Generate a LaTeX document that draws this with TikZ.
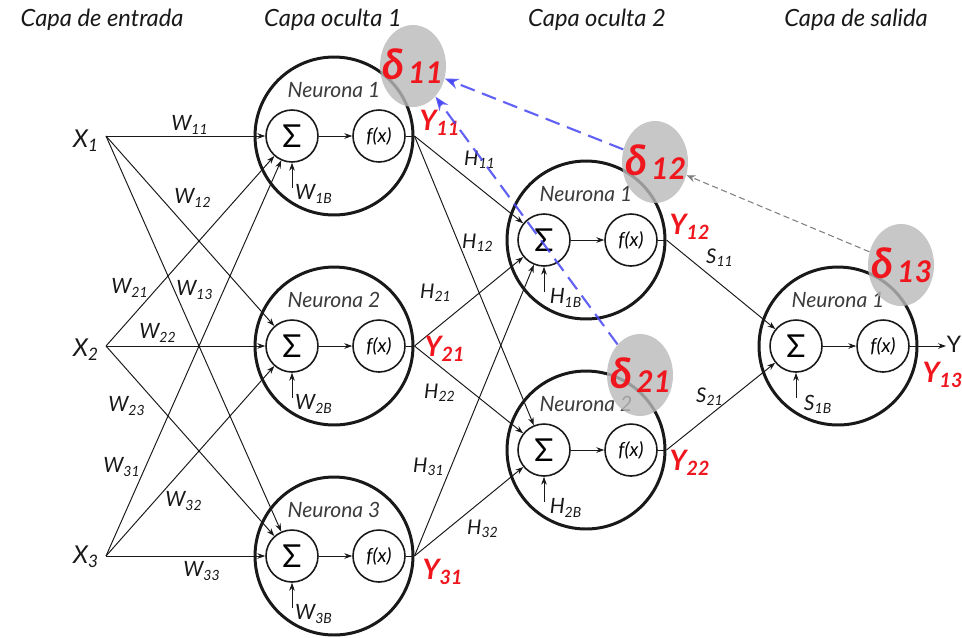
\documentclass[tikz,border=0pt]{standalone}
\usepackage{fontspec}
\setmainfont{Lato}
\usetikzlibrary{arrows.meta,calc,shapes.geometric}

\definecolor{ink}{RGB}{25,25,25}
\definecolor{softink}{RGB}{60,60,60}
\definecolor{errred}{RGB}{240,22,30}
\definecolor{blobgray}{RGB}{185,185,185}
\definecolor{backblue}{RGB}{70,70,245}

% label helpers
\newcommand{\wsub}[2]{#1\textsubscript{#2}}
\newcommand{\ylab}[1]{\textcolor{errred}{\bfseries\itshape Y\textsubscript{#1}}}
\newcommand{\dlab}[1]{\textcolor{errred}{\bfseries\itshape{\fontsize{24}{24}\selectfont δ}\kern2pt\raisebox{-0.22em}{\fontsize{17}{17}\selectfont #1}}}

% one neuron: outer circle, summation unit, activation unit, bias input
% #1 name, #2 x, #3 y, #4 title, #5 bias label
\newcommand{\drawneuron}[5]{%
  \node[neuron] (#1) at (#2,#3) {};
  \node[sumunit] (#1s) at (#2-42,#3) {Σ};
  \node[actunit] (#1f) at (#2+45,#3) {f(x)};
  \node[neutitle] (#1t) at (#2,#3-46) {#4};
  \draw[link] (#1s) -- (#1f);
  \draw[wire] (#1f) -- (#1.east);
  \coordinate (#1b) at (#2-42,#3+52);
  \draw[link] (#1b) -- (#1s);
  \node[biaslab] (#1bl) at (#2-20,#3+58) {#5};
}

\tikzset{
  neuron/.style={circle, draw=ink, line width=1.7pt, fill=white,
    minimum size=3.16cm, inner sep=0pt},
  sumunit/.style={circle, draw=ink, line width=0.9pt, minimum size=1.04cm,
    inner sep=0pt, font=\upshape\fontsize{18}{18}\selectfont},
  actunit/.style={circle, draw=ink, line width=0.9pt, minimum size=1.04cm,
    inner sep=0pt, font=\itshape\fontsize{11}{11}\selectfont},
  neutitle/.style={font=\itshape\fontsize{12}{12}\selectfont, text=softink},
  biaslab/.style={font=\itshape\fontsize{12}{12}\selectfont, text=ink},
  wlab/.style={font=\itshape\fontsize{12}{12}\selectfont, text=ink},
  hlab/.style={font=\itshape\fontsize{11.5}{12}\selectfont, text=ink},
  inlab/.style={font=\itshape\fontsize{14}{14}\selectfont, text=ink},
  ylabel/.style={font=\fontsize{16}{16}\selectfont},
  title/.style={font=\itshape\fontsize{13.5}{14}\selectfont, text=ink},
  link/.style={draw=ink, line width=0.55pt, -{Stealth[length=4.5pt,width=3.2pt]}},
  wire/.style={draw=ink, line width=0.55pt},
  blob/.style={ellipse, fill=blobgray, fill opacity=0.8, draw=none,
    minimum width=1.32cm, minimum height=1.64cm, inner sep=0pt},
  backprop/.style={draw=backblue, draw opacity=0.85, line width=1.2pt,
    dash pattern=on 8.5pt off 4.5pt, -{Stealth[length=8pt,width=6pt]}},
  fadeback/.style={draw=gray, line width=0.6pt, dash pattern=on 3.5pt off 2pt,
    -{Stealth[length=5pt,width=4pt]}},
}

\begin{document}
\begin{tikzpicture}[x=0.02cm, y=-0.02cm]
  \useasboundingbox (0,0) rectangle (962,637);
  \fill[white] (0,0) rectangle (962,637);

  % layer titles
  \node[title] (t1) at (102,20) {Capa de entrada};
  \node[title] (t2) at (333,20) {Capa oculta 1};
  \node[title] (t3) at (597,20) {Capa oculta 2};
  \node[title] (t4) at (856,20) {Capa de salida};

  % neurons
  \drawneuron{A1}{334}{136}{Neurona 1}{\wsub{W}{1B}}
  \drawneuron{A2}{334}{346}{Neurona 2}{\wsub{W}{2B}}
  \drawneuron{A3}{334}{556}{Neurona 3}{\wsub{W}{3B}}
  \drawneuron{B1}{586}{240}{Neurona 1}{\wsub{H}{1B}}
  \drawneuron{B2}{586}{450}{Neurona 2}{\wsub{H}{2B}}
  \drawneuron{C1}{838}{346}{Neurona 1}{\wsub{S}{1B}}

  % inputs
  \coordinate (in1) at (106,136);
  \coordinate (in2) at (106,346);
  \coordinate (in3) at (106,556);
  \node[inlab] (X1) at (86,141) {\wsub{X}{1}};
  \node[inlab] (X2) at (86,350) {\wsub{X}{2}};
  \node[inlab] (X3) at (86,557) {\wsub{X}{3}};

  % input -> hidden layer 1
  \foreach \i in {1,2,3}{
    \foreach \j in {1,2,3}{
      \draw[link] (in\i) -- (A\j s);
    }
  }
  % hidden layer 1 -> hidden layer 2
  \foreach \i in {1,2,3}{
    \foreach \j in {1,2}{
      \draw[link] (A\i.east) -- (B\j s);
    }
  }
  % hidden layer 2 -> output
  \draw[link] (B1.east) -- (C1s);
  \draw[link] (B2.east) -- (C1s);
  \coordinate (yout) at (946,346);
  \draw[link] (C1.east) -- (yout);
  \node[font=\fontsize{13}{13}\selectfont, text=ink] (Y) at (954,344) {Y};

  % weight labels
  \node[wlab] at (190,125) {\wsub{W}{11}};
  \node[wlab] at (193,198) {\wsub{W}{12}};
  \node[wlab] at (195,290) {\wsub{W}{13}};
  \node[wlab] at (130,288) {\wsub{W}{21}};
  \node[wlab] at (158,333) {\wsub{W}{22}};
  \node[wlab] at (127,406) {\wsub{W}{23}};
  \node[wlab] at (122,467) {\wsub{W}{31}};
  \node[wlab] at (184,501) {\wsub{W}{32}};
  \node[wlab] at (202,571) {\wsub{W}{33}};

  \node[hlab] at (480,160) {\wsub{H}{11}};
  \node[hlab] at (478,243) {\wsub{H}{12}};
  \node[hlab] at (436,293) {\wsub{H}{21}};
  \node[hlab] at (440,393) {\wsub{H}{22}};
  \node[hlab] at (429,467) {\wsub{H}{31}};
  \node[hlab] at (483,529) {\wsub{H}{32}};
  \node[hlab] at (720,258) {\wsub{S}{11}};
  \node[hlab] at (710,397) {\wsub{S}{21}};

  % error terms
  \node[blob] (d11) at (413,66) {};
  \node[blob] (d12) at (655,162) {};
  \node[blob] (d13) at (901,265) {};
  \node[blob] (d21) at (640,375) {};
  \node (d11l) at (413,66) {\dlab{11}};
  \node (d12l) at (656,162) {\dlab{12}};
  \node (d13l) at (902,265) {\dlab{13}};
  \node (d21l) at (641,375) {\dlab{21}};

  % outputs of each neuron
  \node[ylabel] (y11) at (440,123) {\ylab{11}};
  \node[ylabel] (y21) at (445,349) {\ylab{21}};
  \node[ylabel] (y31) at (443,572) {\ylab{31}};
  \node[ylabel] (y12) at (690,227) {\ylab{12}};
  \node[ylabel] (y22) at (690,463) {\ylab{22}};
  \node[ylabel] (y13) at (943,375) {\ylab{13}};

  % backpropagation of the errors
  \draw[backprop] (d12) -- (d11);
  \draw[backprop] (d21) -- (d11);
  \draw[fadeback] (d13) -- (d12);
\end{tikzpicture}
\end{document}
